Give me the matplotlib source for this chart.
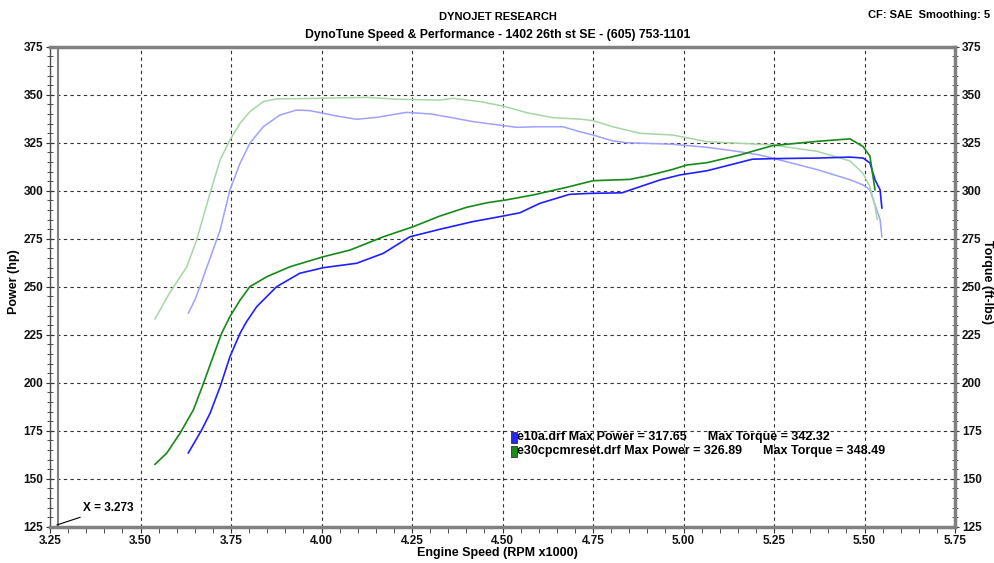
import matplotlib
matplotlib.use('Agg')
import matplotlib.pyplot as plt
from matplotlib.ticker import MultipleLocator, FormatStrFormatter

# --- run data (RPM x1000) ---
# e10a.drf power
e10_rpm = [3.632, 3.669, 3.692, 3.72, 3.747, 3.775, 3.793, 3.821, 3.876, 3.94, 4.005, 4.097,
           4.171, 4.244, 4.327, 4.418, 4.493, 4.548, 4.603, 4.685, 4.74, 4.83, 4.88, 4.935,
           4.99, 5.065, 5.128, 5.19, 5.247, 5.369, 5.46, 5.496, 5.515, 5.529, 5.543, 5.548]
e10_hp = [163.4, 175.4, 184, 197.9, 213.5, 225.7, 231.8, 239.6, 250, 257, 259.9, 262.2,
          267.4, 276, 279.9, 283.9, 286.5, 288.5, 293.4, 298.1, 298.6, 298.9, 302.1, 305.6,
          308.2, 310.4, 313.4, 316.4, 316.7, 317, 317.5, 317, 314.5, 305.7, 300.5, 291]

# e10a.drf torque
e10_tq_rpm = [3.632, 3.65, 3.664, 3.72, 3.747, 3.775, 3.802, 3.839, 3.885, 3.931, 3.968, 4.005,
              4.042, 4.097, 4.152, 4.235, 4.30, 4.355, 4.418, 4.51, 4.54, 4.595, 4.667, 4.714,
              4.75, 4.805, 4.844, 4.97, 5.065, 5.156, 5.21, 5.247, 5.369, 5.46, 5.496, 5.515,
              5.543, 5.548]
e10_tq = [236.2, 243, 250, 279.5, 300.4, 314.3, 324.7, 333.3, 339.4, 342, 341.7, 340.3,
          338.9, 337.2, 338.2, 340.8, 340, 338.2, 336, 333.7, 333, 333.3, 333.3, 330.7,
          329, 325.9, 325, 324.2, 322.6, 320.3, 318.6, 316.9, 311, 305.7, 303, 300.5,
          285, 276]

# e30cpcmreset.drf power
e30_rpm = [3.54, 3.572, 3.609, 3.646, 3.674, 3.697, 3.724, 3.747, 3.775, 3.802, 3.849, 3.913,
           4.005, 4.079, 4.171, 4.254, 4.327, 4.40, 4.457, 4.51, 4.585, 4.678, 4.75, 4.852,
           4.899, 4.97, 5.01, 5.065, 5.156, 5.203, 5.247, 5.369, 5.46, 5.496, 5.515, 5.529]
e30_hp = [157.5, 163.2, 173.6, 185.8, 199.7, 211.8, 225.7, 234.4, 243, 250, 255.2, 260.4,
          265.6, 269.1, 276, 281.3, 286.8, 291.3, 293.7, 295.2, 297.8, 301.8, 305.2, 305.9,
          307.7, 311.1, 313.4, 314.6, 318.6, 321.2, 323.5, 325.7, 327, 323, 318, 300.5]

# e30cpcmreset.drf torque
e30_tq_rpm = [3.54, 3.58, 3.628, 3.655, 3.692, 3.72, 3.747, 3.775, 3.802, 3.839, 3.876, 3.987,
              4.125, 4.217, 4.327, 4.363, 4.438, 4.501, 4.568, 4.64, 4.714, 4.75, 4.805, 4.88,
              4.97, 5.065, 5.156, 5.247, 5.369, 5.46, 5.496, 5.515, 5.529, 5.535]
e30_tq = [233.2, 246.6, 260.4, 274.3, 298.6, 316, 326.4, 335.1, 341.1, 346.4, 347.8, 348.1,
          348.6, 347.6, 347.2, 348.1, 346.4, 344.1, 340.6, 338, 337.3, 336.5, 333.3, 329.9,
          329, 325.5, 324.7, 323.8, 320.5, 315.5, 309, 302, 292, 285]

runs = ['e10a.drf Max Power = 317.65      Max Torque = 342.32',
        'e30cpcmreset.drf Max Power = 326.89      Max Torque = 348.49']
run_colors = ['#2626ff', '#1a8c1a']

plt.rcParams['font.family'] = ['Liberation Sans', 'DejaVu Sans']

fig = plt.figure(figsize=(9.95, 5.63), dpi=100)
ax = fig.add_axes([50 / 995, 1 - 526.7 / 563, 905 / 995, 480 / 563])

ax.plot(e10_tq_rpm, e10_tq, color='#a0a0ff', lw=1.1, zorder=3)
ax.plot(e30_tq_rpm, e30_tq, color='#a6d6a6', lw=1.1, zorder=3)
ax.plot(e10_rpm, e10_hp, color='#2020ff', lw=1.2, zorder=4)
ax.plot(e30_rpm, e30_hp, color='#168a16', lw=1.2, zorder=4)

ax.set_xlim(3.25, 5.75)
ax.set_ylim(125, 375)
ax.xaxis.set_major_locator(MultipleLocator(0.25))
ax.xaxis.set_minor_locator(MultipleLocator(0.05))
ax.yaxis.set_major_locator(MultipleLocator(25))
ax.yaxis.set_minor_locator(MultipleLocator(5))
ax.xaxis.set_major_formatter(FormatStrFormatter('%.2f'))
ax.tick_params(which='both', direction='inout', color='#303030', labelsize=8.5,
               left=True, right=True, labelright=True, pad=2)
ax.tick_params(axis='x', which='both', direction='out', length=4, pad=2)
ax.tick_params(axis='y', which='major', length=6)
ax.tick_params(axis='y', which='minor', length=5)
plt.setp(ax.get_xticklabels() + ax.get_yticklabels(), fontweight='bold', color='#111111')
plt.setp(ax.yaxis.get_ticklabels(which='major'), fontweight='bold')

ax.grid(True, which='major', color='#303030', ls=(0, (3, 3)), lw=0.8)
ax.spines['left'].set_color('#505050')
ax.spines['left'].set_linewidth(1.0)
for side in ['bottom', 'right', 'top']:
    ax.spines[side].set_color('#808080')
    ax.spines[side].set_linewidth(2.5)
# back wall of the 3d-style frame
ax.axvline(3.272, color='#808080', lw=1.5, zorder=2)

fig.text(0.5, 1 - 553 / 563, 'Engine Speed (RPM x1000)', ha='center', va='center',
         fontsize=9, fontweight='bold')
fig.text(14 / 995, 0.5, 'Power (hp)', ha='center', va='center', rotation=90,
         fontsize=9, fontweight='bold')
fig.text(987 / 995, 0.5, 'Torque (ft-lbs)', ha='center', va='center', rotation=-90,
         fontsize=9, fontweight='bold')

fig.text(0.5, 1 - 17 / 563, 'DYNOJET RESEARCH', ha='center', va='center', fontsize=8,
         fontweight='bold')
fig.text(0.5, 1 - 35 / 563, 'DynoTune Speed & Performance - 1402 26th st SE - (605) 753-1101',
         ha='center', va='center', fontsize=8.8, fontweight='bold')
fig.text(990 / 995, 1 - 15 / 563, 'CF: SAE  Smoothing: 5', ha='right', va='center',
         fontsize=8, fontweight='bold')

# run legend
for i, (txt, col) in enumerate(zip(runs, run_colors)):
    yy = 171.5 - i * 7.3
    ax.text(4.541, yy, txt, fontsize=9, fontweight='bold', va='center', ha='left')
    ax.add_patch(plt.Rectangle((4.523, yy - 2.9), 0.0165, 5.8, facecolor=col,
                               edgecolor='#303030', lw=0.6, zorder=5))

ax.annotate('X = 3.273', xy=(3.269, 125.9), xytext=(3.341, 134.7), fontsize=8.5,
            fontweight='bold', va='center', ha='left',
            arrowprops=dict(arrowstyle='-', color='black', lw=0.8, shrinkA=1, shrinkB=0))

fig.savefig('out.png', dpi=100, facecolor='white')
